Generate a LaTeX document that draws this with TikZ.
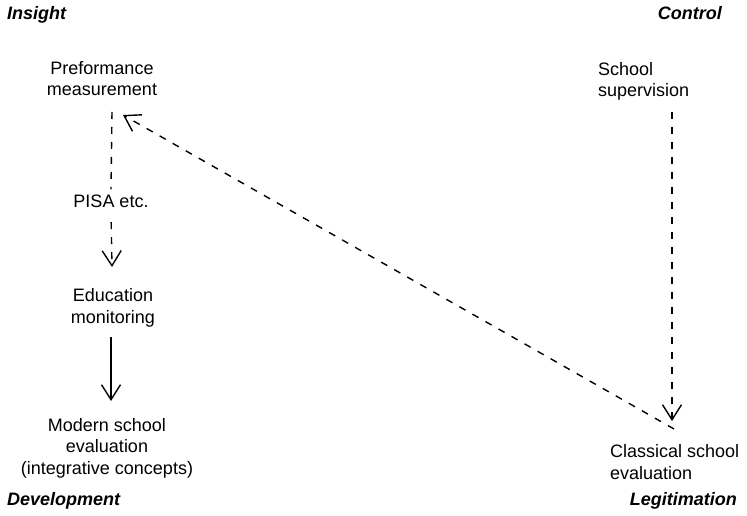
\documentclass[tikz,border=0pt]{standalone}
\usepackage{fontspec}
\setmainfont{Liberation Sans}
\usetikzlibrary{arrows.meta}
\begin{document}
\begin{tikzpicture}[x=1pt,y=-1pt,
  lbl/.style={font=\fontsize{18}{21.5}\selectfont, inner sep=0pt},
  corner/.style={font=\fontsize{18}{21.5}\selectfont\bfseries\itshape, inner sep=0pt},
  flow/.style={line width=1.4pt, -{Straight Barb[length=15pt,width=19pt]}},
  dashline/.style={line width=1.4pt, dash pattern=on 7pt off 8pt},
  dashflow/.style={flow, dash pattern=on 7pt off 8pt}]
\useasboundingbox (0,0) rectangle (747,516);

% corner headings
\node[corner, anchor=base west] (insight) at (7,20) {Insight};
\node[corner, anchor=base east] (control) at (722,20) {Control};
\node[corner, anchor=base west] (development) at (7,505) {Development};
\node[corner, anchor=base east] (legitimation) at (737,505) {Legitimation};

% text nodes (base anchor sits on the last line)
\node[lbl, align=center, anchor=base] (perf) at (102,96) {Preformance\\measurement};
\node[lbl, align=left, anchor=base west] (sup) at (598,97) {School\\supervision};
\node[lbl, anchor=base, outer ysep=5pt] (pisa) at (111,207) {PISA etc.};
\node[lbl, align=center, anchor=base] (edu) at (113,323) {Education\\monitoring};
\node[lbl, align=center, anchor=base] (modern) at (107,474) {Modern school\\evaluation\\(integrative concepts)};
\node[lbl, align=left, anchor=base west] (classical) at (610,479) {Classical school\\evaluation};

% connector ends
\coordinate (perfout) at (112,112);
\coordinate (eduin) at (112,267);
\coordinate (eduout) at (111,337);
\coordinate (modernin) at (111,401);
\coordinate (supout) at (672,112);
\coordinate (classicalin) at (672,421);
\coordinate (classicalout) at (674,429);
\coordinate (perfin) at (123,115);

% connectors
\draw[dashline] (perfout) -- (pisa.north);
\draw[dashflow, shorten <=10pt] (pisa.south) -- (eduin);
\draw[flow] (eduout) -- (modernin);
\draw[dashflow] (supout) -- (classicalin);
\draw[dashflow] (classicalout) -- (perfin);
\end{tikzpicture}
\end{document}
